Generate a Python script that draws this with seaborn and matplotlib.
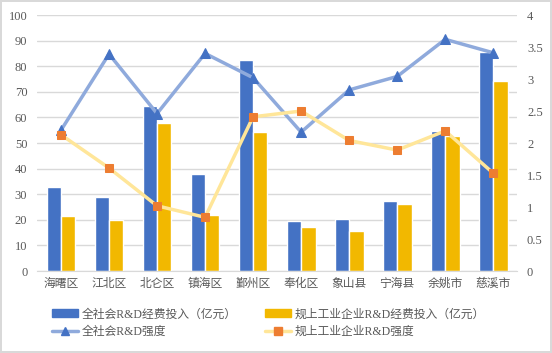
import seaborn as sns
import numpy as np
import pandas as pd
import matplotlib.pyplot as plt
from matplotlib.patches import Patch
from matplotlib.lines import Line2D

sns.set_style("white")
plt.rcParams["font.family"] = ["Noto Sans CJK SC", "DejaVu Sans"]

districts = ["海曙区", "江北区", "北仑区", "镇海区", "鄞州区", "奉化区", "象山县", "宁海县", "余姚市", "慈溪市"]
total_spend = [33.0, 28.9, 64.5, 38.0, 82.5, 19.6, 20.3, 27.3, 54.8, 85.6]
industry_spend = [21.6, 20.0, 57.9, 22.0, 54.4, 17.2, 15.7, 26.2, 52.8, 74.3]
total_intensity = [2.20, 3.39, 2.46, 3.40, 3.02, 2.17, 2.83, 3.04, 3.62, 3.41]
industry_intensity = [2.13, 1.61, 1.02, 0.84, 2.41, 2.50, 2.04, 1.89, 2.19, 1.53]
left_ticks = list(range(0, 101, 10))
right_ticks = ["0", "0.5", "1", "1.5", "2", "2.5", "3", "3.5", "4"]

s_total = "全社会R&D经费投入（亿元）"
s_ind = "规上工业企业R&D经费投入（亿元）"
l_total = "全社会R&D强度"
l_ind = "规上工业企业R&D强度"

df = pd.DataFrame({
    "区域": districts * 2,
    "经费": total_spend + industry_spend,
    "指标": [s_total] * 10 + [s_ind] * 10,
})

blue = "#4472C4"
gold = "#F2B800"
line_blue = "#8FAADC"
line_gold = "#FFE699"
orange = "#ED7D31"
txt = "#595959"
grid = "#D9D9D9"
serif_mix = ["Liberation Serif", "Noto Sans CJK SC"]
fs = 8.5

fig = plt.figure(figsize=(5.52, 3.53), dpi=100, linewidth=1.5, edgecolor=grid)
ax = fig.add_axes([0.067, 0.232, 0.87, 0.7255])

sns.barplot(data=df, x="区域", y="经费", hue="指标", palette=[blue, gold],
            width=0.6, gap=0, saturation=1, ax=ax, legend=False, zorder=2)
ax.set_ylim(0, 100)
ax.set_yticks(left_ticks)
ax.set_yticklabels([str(v) for v in left_ticks], family=serif_mix)
ax.yaxis.grid(True, color=grid, linewidth=1, zorder=0)
ax.set_axisbelow(True)
ax.set_xlabel("")
ax.set_ylabel("")
for sp in ["left", "right", "top"]:
    ax.spines[sp].set_visible(False)
ax.spines["bottom"].set_color(grid)
ax.tick_params(length=0, colors=txt, labelsize=fs)
ax.tick_params(axis="y", pad=7, labelsize=fs + 0.5)
ax.tick_params(axis="x", pad=4)

ax2 = ax.twinx()
xs = np.arange(len(districts))
sns.lineplot(x=xs, y=total_intensity, sort=False, ax=ax2, color=line_blue, linewidth=2.5,
             marker="^", markersize=6.5, markerfacecolor=blue, markeredgecolor=blue)
sns.lineplot(x=xs, y=industry_intensity, sort=False, ax=ax2, color=line_gold, linewidth=2.5,
             marker="s", markersize=6, markerfacecolor=orange, markeredgecolor=orange)
ax2.set_ylim(0, 4)
ax2.set_yticks(np.arange(0, 4.01, 0.5))
ax2.set_yticklabels(right_ticks, family=serif_mix)
for sp in ["left", "right", "top", "bottom"]:
    ax2.spines[sp].set_visible(False)
ax2.tick_params(length=0, colors=txt, labelsize=fs + 0.5, pad=7)
ax.set_xlim(-0.5, 9.5)

handles = [
    Patch(facecolor=blue, edgecolor=blue),
    Line2D([0], [0], color=line_blue, linewidth=2.5, marker="^", markersize=6,
           markerfacecolor=blue, markeredgecolor=blue),
    Patch(facecolor=gold, edgecolor=gold),
    Line2D([0], [0], color=line_gold, linewidth=2.5, marker="s", markersize=6,
           markerfacecolor=orange, markeredgecolor=orange),
]
labels = [s_total, l_total, s_ind, l_ind]
leg = fig.legend(handles, labels, loc="center left", bbox_to_anchor=(0.075, 0.085), ncol=2,
                 frameon=False, prop={"family": serif_mix, "size": fs},
                 handlelength=2.2, handleheight=0.6,
                 columnspacing=2.4, labelspacing=0.45, handletextpad=0.3)
for t in leg.get_texts():
    t.set_color(txt)

fig.savefig("out.png", dpi=100)
